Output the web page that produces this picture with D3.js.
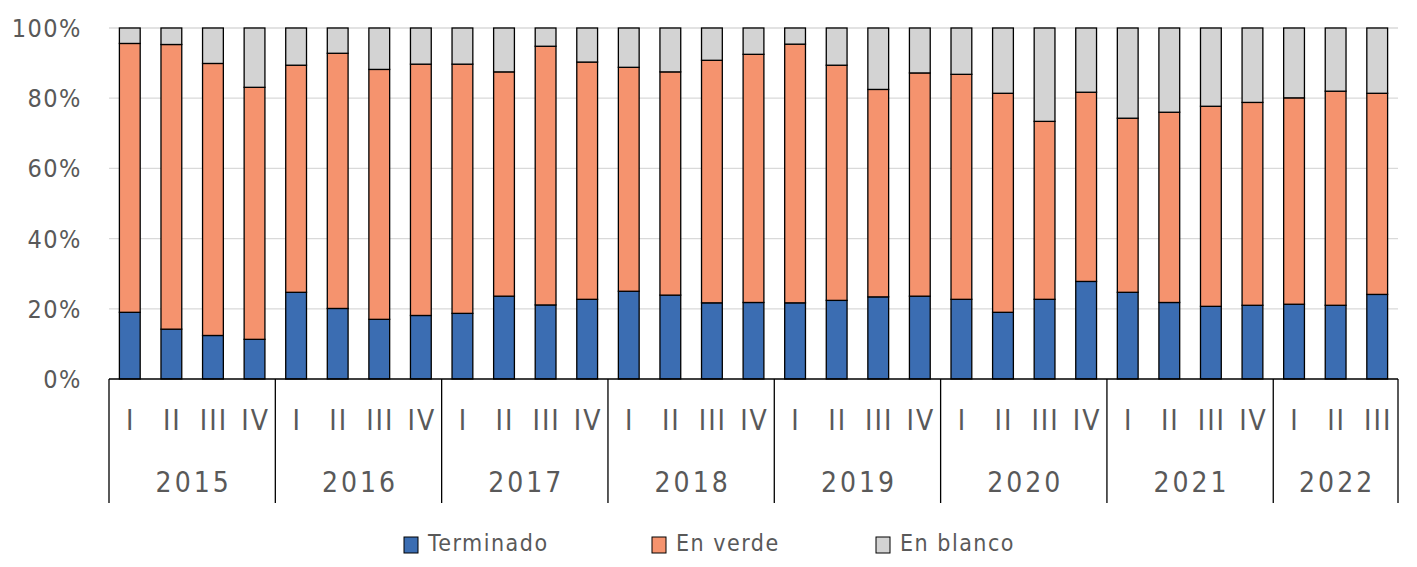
<!DOCTYPE html>
<html>
<head>
<meta charset="utf-8">
<script src="https://cdn.jsdelivr.net/npm/d3@7"></script>
<style>
  body { margin: 0; background: #fff; }
  text { font-family: "Liberation Sans Narrow", "DejaVu Sans Condensed", sans-serif; fill: #595959; }
</style>
</head>
<body>
<div id="chart"></div>
<script>
// data (percent of total)
var years = ["2015", "2016", "2017", "2018", "2019", "2020", "2021", "2022"];
var quartersPerYear = [4, 4, 4, 4, 4, 4, 4, 3];
var quarterNames = ["I", "II", "III", "IV"];
var seriesNames = ["Terminado", "En verde", "En blanco"];
var seriesColors = ["#3b6db2", "#f5936e", "#d3d3d3"];

var terminado = [19.0, 14.2, 12.4, 11.3, 24.7, 20.1, 17.0, 18.1, 18.7, 23.6, 21.1, 22.7,
    25.0, 23.9, 21.7, 21.8, 21.7, 22.4, 23.4, 23.6, 22.7, 19.0, 22.7, 27.8,
    24.7, 21.8, 20.7, 21.0, 21.3, 21.0, 24.1];
var enVerde = [76.6, 81.1, 77.5, 71.8, 64.7, 72.7, 71.2, 71.6, 71.0, 63.9, 73.7, 67.6,
    63.8, 63.6, 69.1, 70.7, 73.7, 67.0, 59.1, 63.6, 64.1, 62.4, 50.7, 53.9,
    49.6, 54.2, 57.0, 57.8, 58.8, 61.0, 57.3];
var enBlanco = [4.4, 4.7, 10.1, 16.9, 10.6, 7.2, 11.8, 10.3, 10.3, 12.5, 5.2, 9.7,
    11.2, 12.5, 9.2, 7.5, 4.6, 10.6, 17.5, 12.8, 13.2, 18.6, 26.6, 18.3,
    25.7, 24.0, 22.3, 21.2, 19.9, 18.0, 18.6];
var yTicks = [0, 20, 40, 60, 80, 100];

// build rows
var rows = [];
years.forEach(function(yr, yi) {
    for (var q = 0; q < quartersPerYear[yi]; q++) {
        var i = rows.length;
        rows.push({ id: i, year: yr, quarter: quarterNames[q],
            "Terminado": terminado[i], "En verde": enVerde[i], "En blanco": enBlanco[i] });
    }
});

var width = 1417, height = 567;
var margin = { left: 109, right: 1398, top: 28, bottom: 379 };

var svg = d3.select("#chart").append("svg")
    .attr("width", width)
    .attr("height", height);

var x = d3.scaleBand()
    .domain(rows.map(d => d.id))
    .range([margin.left, margin.right])
    .paddingInner(0.5)
    .paddingOuter(0.25);

var y = d3.scaleLinear()
    .domain([0, 100])
    .range([margin.bottom, margin.top]);

// gridlines
svg.append("g")
    .selectAll("line")
    .data(yTicks.filter(d => d > 0))
    .enter().append("line")
    .attr("x1", margin.left).attr("x2", margin.right)
    .attr("y1", d => y(d)).attr("y2", d => y(d))
    .attr("stroke", "#d9d9d9")
    .attr("stroke-width", 1.3);

// y labels
svg.append("g")
    .selectAll("text")
    .data(yTicks)
    .enter().append("text")
    .attr("x", 82)
    .attr("y", d => y(d) + 9)
    .attr("text-anchor", "end")
    .attr("font-size", 25)
    .attr("letter-spacing", 1.5)
    .text(d => d + "%");

// stacked bars
var stack = d3.stack().keys(seriesNames);
var layers = stack(rows);

svg.append("g")
    .selectAll("g")
    .data(layers)
    .enter().append("g")
    .attr("fill", (d, i) => seriesColors[i])
    .selectAll("rect")
    .data(d => d)
    .enter().append("rect")
    .attr("x", d => x(d.data.id))
    .attr("y", d => y(d[1]))
    .attr("width", x.bandwidth())
    .attr("height", d => y(d[0]) - y(d[1]))
    .attr("stroke", "#000")
    .attr("stroke-width", 1.3);

// x axis line
svg.append("line")
    .attr("x1", margin.left).attr("x2", margin.right)
    .attr("y1", margin.bottom).attr("y2", margin.bottom)
    .attr("stroke", "#000")
    .attr("stroke-width", 1.3);

// quarter labels
svg.append("g")
    .selectAll("text")
    .data(rows)
    .enter().append("text")
    .attr("x", d => x(d.id) + x.bandwidth() / 2 + 1)
    .attr("y", 430)
    .attr("text-anchor", "middle")
    .attr("font-size", 28)
    .attr("letter-spacing", 2)
    .text(d => d.quarter);

// year groups
var step = x.step();
var groups = [];
var start = 0;
years.forEach(function(yr, yi) {
    var n = quartersPerYear[yi];
    var x0 = yi === 0 ? margin.left : x(start) - step * 0.25;
    var x1 = yi === years.length - 1 ? margin.right : x(start + n) - step * 0.25;
    groups.push({ year: yr, x0: x0, x1: x1 });
    start += n;
});

svg.append("g")
    .selectAll("line")
    .data([margin.left].concat(groups.map(g => g.x1)))
    .enter().append("line")
    .attr("x1", d => d).attr("x2", d => d)
    .attr("y1", margin.bottom).attr("y2", 503)
    .attr("stroke", "#000")
    .attr("stroke-width", 1.3);

svg.append("g")
    .selectAll("text")
    .data(groups)
    .enter().append("text")
    .attr("x", d => (d.x0 + d.x1) / 2 + 1.5)
    .attr("y", 492)
    .attr("text-anchor", "middle")
    .attr("font-size", 28)
    .attr("letter-spacing", 3)
    .text(d => d.year);

// legend
var legendX = [404, 652, 876];
var legend = svg.append("g")
    .selectAll("g")
    .data(seriesNames)
    .enter().append("g")
    .attr("transform", (d, i) => "translate(" + legendX[i] + ",537)");

legend.append("rect")
    .attr("width", 14).attr("height", 16)
    .attr("fill", (d, i) => seriesColors[i])
    .attr("stroke", "#000")
    .attr("stroke-width", 1);

legend.append("text")
    .attr("x", 24)
    .attr("y", 14)
    .attr("font-size", 23)
    .attr("letter-spacing", 1.5)
    .text(d => d);
</script>
</body>
</html>
